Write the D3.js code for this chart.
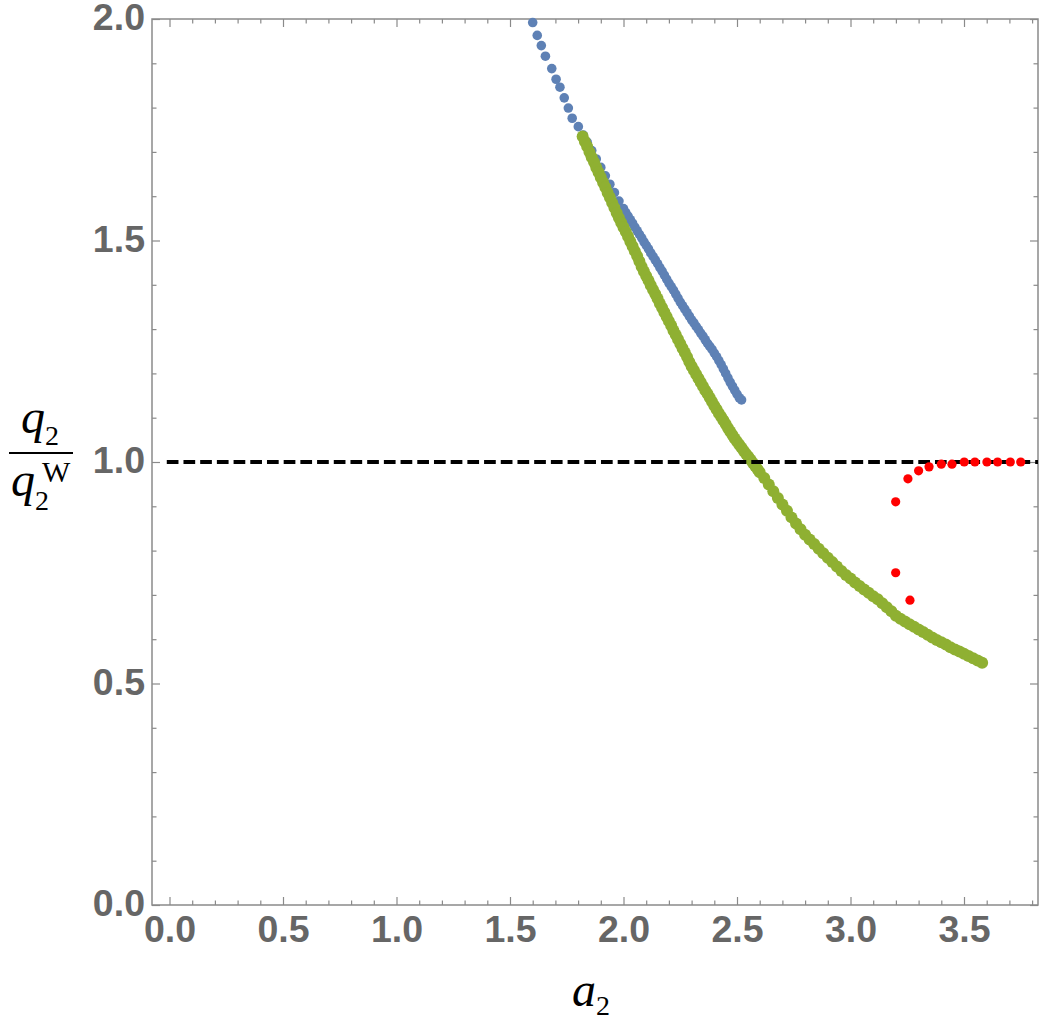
<!DOCTYPE html>
<html>
  <head>
    <script src="https://d3js.org/d3.v7.min.js"></script>
    <style>
      body { margin: 0; background: #fff; }
      .tick text { font-family: "Liberation Sans", Arial, sans-serif; font-weight: bold; font-size: 37.5px; fill: #666; }
      .tick line { stroke: #8a8a8a; stroke-width: 1.2; }
    </style>
  </head>
  <body>
    <svg id="chart" width="1042" height="1034"></svg>
    <script>
      // blue series [a2, q2/q2W]
      const blueData = [
        [1.600,1.992],[1.620,1.963],[1.638,1.940],[1.656,1.916],[1.684,1.888],[1.703,1.864],
        [1.720,1.846],[1.739,1.822],[1.757,1.799],[1.774,1.776],[1.801,1.757],[1.823,1.738],
        [1.84,1.722],[1.86,1.703],[1.88,1.684],[1.90,1.665],[1.92,1.646],[1.94,1.627],
        [1.96,1.608],[1.98,1.589],[2.00,1.572],[2.01,1.563],[2.02,1.555],[2.03,1.547],
        [2.04,1.539],[2.05,1.530],[2.06,1.522],[2.07,1.514],[2.08,1.506],[2.09,1.497],
        [2.10,1.489],[2.11,1.481],[2.12,1.472],[2.13,1.464],[2.14,1.456],[2.15,1.448],
        [2.16,1.439],[2.17,1.431],[2.18,1.422],[2.19,1.413],[2.20,1.404],[2.21,1.396],
        [2.22,1.388],[2.23,1.379],[2.24,1.370],[2.25,1.361],[2.26,1.353],[2.27,1.345],
        [2.28,1.337],[2.29,1.329],[2.30,1.321],[2.31,1.314],[2.32,1.306],[2.33,1.299],
        [2.34,1.291],[2.35,1.284],[2.36,1.276],[2.37,1.268],[2.38,1.261],[2.39,1.254],
        [2.40,1.246],[2.41,1.238],[2.42,1.229],[2.43,1.220],[2.44,1.210],[2.45,1.200],
        [2.46,1.190],[2.47,1.180],[2.48,1.171],[2.49,1.162],[2.50,1.153],[2.51,1.145],
        [2.52,1.140]
      ];

      // green series
      const greenData = [
        [1.82,1.735],[1.83,1.723],[1.84,1.712],[1.85,1.700],[1.86,1.688],[1.87,1.677],
        [1.88,1.665],[1.89,1.654],[1.90,1.642],[1.91,1.631],[1.92,1.620],[1.93,1.608],
        [1.94,1.597],[1.95,1.585],[1.96,1.574],[1.97,1.562],[1.98,1.551],[1.99,1.540],
        [2.00,1.530],[2.01,1.520],[2.02,1.509],[2.03,1.498],[2.04,1.487],[2.05,1.476],
        [2.06,1.465],[2.07,1.453],[2.08,1.441],[2.09,1.430],[2.10,1.420],[2.11,1.410],
        [2.12,1.399],[2.13,1.389],[2.14,1.379],[2.15,1.369],[2.16,1.358],[2.17,1.348],
        [2.18,1.338],[2.19,1.328],[2.20,1.318],[2.21,1.308],[2.22,1.297],[2.23,1.287],
        [2.24,1.277],[2.25,1.267],[2.26,1.257],[2.27,1.247],[2.28,1.237],[2.29,1.226],
        [2.30,1.216],[2.31,1.207],[2.32,1.198],[2.33,1.189],[2.34,1.180],[2.35,1.171],
        [2.36,1.162],[2.37,1.154],[2.38,1.145],[2.39,1.136],[2.40,1.127],[2.41,1.119],
        [2.42,1.110],[2.43,1.102],[2.44,1.094],[2.45,1.086],[2.46,1.077],[2.47,1.069],
        [2.48,1.061],[2.49,1.053],[2.50,1.046],[2.51,1.039],[2.52,1.032],[2.53,1.025],
        [2.54,1.018],[2.55,1.012],[2.56,1.005],[2.57,0.998],[2.58,0.991],[2.59,0.984],
        [2.60,0.977],[2.62,0.964],[2.64,0.949],[2.66,0.934],[2.68,0.919],[2.70,0.904],
        [2.72,0.890],[2.74,0.875],[2.76,0.861],[2.78,0.848],[2.80,0.836],[2.82,0.825],
        [2.84,0.815],[2.86,0.804],[2.88,0.794],[2.90,0.784],[2.92,0.774],[2.94,0.764],
        [2.96,0.754],[2.98,0.745],[3.00,0.737],[3.02,0.728],[3.04,0.720],[3.06,0.712],
        [3.08,0.705],[3.10,0.697],[3.12,0.690],[3.14,0.681],[3.16,0.672],[3.18,0.663],
        [3.20,0.653],[3.22,0.646],[3.24,0.640],[3.26,0.634],[3.28,0.628],[3.30,0.622],
        [3.32,0.616],[3.34,0.610],[3.36,0.604],[3.38,0.598],[3.40,0.593],[3.42,0.588],
        [3.44,0.582],[3.46,0.577],[3.48,0.572],[3.50,0.567],[3.52,0.562],[3.54,0.557],
        [3.56,0.552],[3.58,0.547]
      ];

      // red series
      const redData = [
        [3.199,0.910],[3.199,0.750],[3.262,0.688],[3.253,0.962],[3.300,0.980],[3.346,0.989],
        [3.400,0.995],[3.447,0.995],[3.501,1.000],[3.548,1.000],[3.601,1.000],[3.648,1.000],
        [3.704,1.000],[3.750,1.000]
      ];

      const refY = 1.0;
      const refX = [-0.012, 3.826];

      const xMajor = [0, 0.5, 1, 1.5, 2, 2.5, 3, 3.5];
      const xMinor = d3.range(0, 39).map(i => i / 10).filter(v => Math.round(v * 10) % 5 != 0);
      const yMajor = [0, 0.5, 1, 1.5, 2];
      const yMinor = d3.range(0, 21).map(i => i / 10).filter(v => Math.round(v * 10) % 5 != 0);

      let svg = d3.select("#chart");
      let mLeft = 152, mRight = 1038, mTop = 19, mBottom = 905;

      let xScale = d3.scaleLinear().domain([-0.0771, 3.826]).range([mLeft, mRight]);
      let yScale = d3.scaleLinear().domain([0, 2]).range([mBottom, mTop]);

      let fmt = d3.format(".1f");

      // axes: ticks pointing inward
      function addAxis(axisFn, scale, values, size, transform, labels) {
        let g = svg.append("g").attr("transform", transform)
          .call(axisFn(scale).tickValues(values).tickSize(-size).tickPadding(labels ? 10 : 0)
            .tickFormat(labels ? fmt : ""));
        g.select(".domain").remove();
        return g;
      }
      addAxis(d3.axisBottom, xScale, xMinor, 4.5, `translate(0,${mBottom})`, false);
      let xb = addAxis(d3.axisBottom, xScale, xMajor, 8, `translate(0,${mBottom})`, true);
      xb.selectAll("text").attr("y", 10);
      addAxis(d3.axisTop, xScale, xMinor, 4.5, `translate(0,${mTop})`, false);
      addAxis(d3.axisTop, xScale, xMajor, 8, `translate(0,${mTop})`, false);

      addAxis(d3.axisLeft, yScale, yMinor, 4.5, `translate(${mLeft},0)`, false);
      let yl = addAxis(d3.axisLeft, yScale, yMajor, 8, `translate(${mLeft},0)`, true);
      yl.selectAll("text").attr("x", -7).attr("dy", "0.28em");
      addAxis(d3.axisRight, yScale, yMinor, 4.5, `translate(${mRight},0)`, false);
      addAxis(d3.axisRight, yScale, yMajor, 8, `translate(${mRight},0)`, false);

      svg.append("rect")
        .attr("x", mLeft).attr("y", mTop)
        .attr("width", mRight - mLeft).attr("height", mBottom - mTop)
        .attr("fill", "none").attr("stroke", "#8a8a8a").attr("stroke-width", 1.5);

      let plot = svg.append("g");

      plot.selectAll("circle.blue").data(blueData)
        .join("circle").attr("class", "blue")
        .attr("cx", d => xScale(d[0])).attr("cy", d => yScale(d[1]))
        .attr("r", 4.8).attr("fill", "#5E81B5");

      plot.selectAll("circle.green").data(greenData)
        .join("circle").attr("class", "green")
        .attr("cx", d => xScale(d[0])).attr("cy", d => yScale(d[1]))
        .attr("r", 6).attr("fill", "#8FB032");

      plot.append("line")
        .attr("x1", xScale(refX[0])).attr("x2", xScale(refX[1]))
        .attr("y1", yScale(refY)).attr("y2", yScale(refY))
        .attr("stroke", "#000").attr("stroke-width", 4)
        .attr("stroke-dasharray", "11.7,5");

      plot.selectAll("circle.red").data(redData)
        .join("circle").attr("class", "red")
        .attr("cx", d => xScale(d[0])).attr("cy", d => yScale(d[1]))
        .attr("r", 4.6).attr("fill", "#FF0000");

      // axis labels
      let serif = "'Liberation Serif', 'Times New Roman', serif";
      let xl = svg.append("text").attr("x", 572).attr("y", 1006)
        .style("font-family", serif).style("font-size", "48px").attr("fill", "#000");
      xl.append("tspan").style("font-style", "italic").text("a");
      xl.append("tspan").attr("dy", 9).style("font-size", "28px").text("2");

      let yt = svg.append("g").style("font-family", serif).attr("fill", "#000");
      let num = yt.append("text").attr("x", 21).attr("y", 433).style("font-size", "48px");
      num.append("tspan").style("font-style", "italic").text("q");
      num.append("tspan").attr("dy", 12).style("font-size", "28px").text("2");
      yt.append("line").attr("x1", 9).attr("x2", 73).attr("y1", 453).attr("y2", 453)
        .attr("stroke", "#000").attr("stroke-width", 2);
      let den = yt.append("text").attr("x", 11).attr("y", 496).style("font-size", "48px");
      den.append("tspan").style("font-style", "italic").text("q");
      den.append("tspan").attr("dy", 14).style("font-size", "28px").text("2");
      yt.append("text").attr("x", 42).attr("y", 482).style("font-size", "30px").text("W");
    </script>
  </body>
</html>
